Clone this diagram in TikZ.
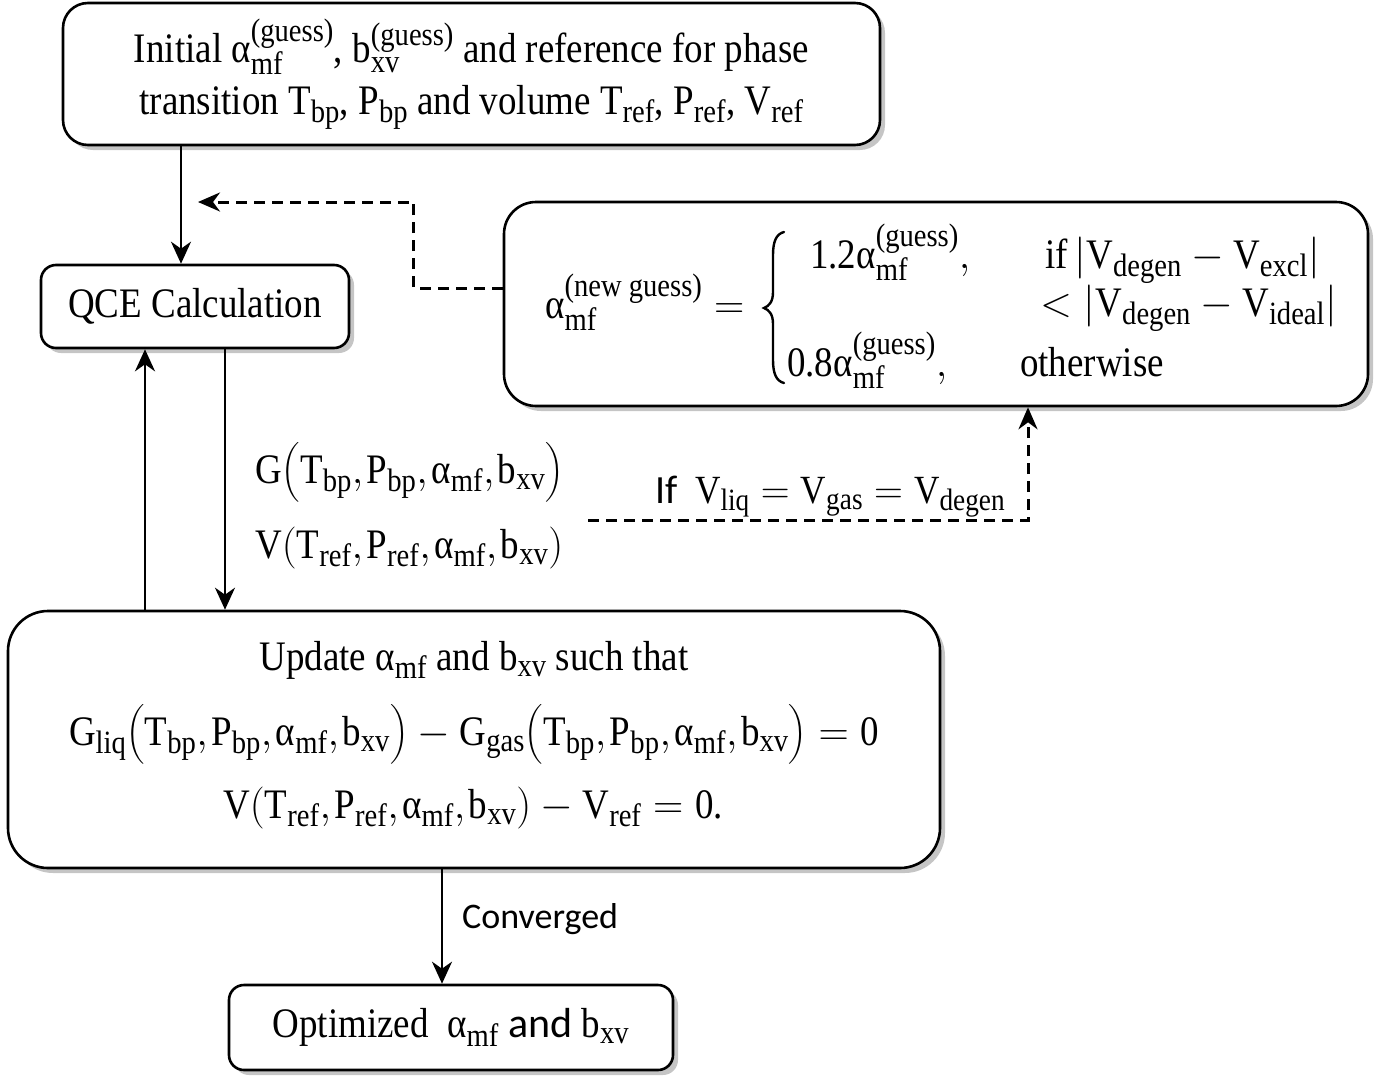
\documentclass[tikz,border=0pt]{standalone}
\usepackage{fix-cm}
\usepackage{amsmath}
\usepackage{fontspec}
\setmainfont[FakeStretch=0.88]{Liberation Serif}
\newfontfamily\calib{Carlito}
\DeclareMathSizes{42}{42}{32.5}{24}
\DeclareMathSizes{40}{40}{31}{22}
\usetikzlibrary{shadows,arrows.meta}
\newcommand\tx[1]{\text{#1}}
\newcommand\cma{{,}\mkern1.5mu}
\newcommand\myam{\tx{α}_{\tx{mf}}}
\newcommand\mybxv{\tx{b}_{\tx{xv}}}
\newcommand\myag{\tx{α}^{\tx{(guess)}}_{\tx{mf}}}
\begin{document}
\begin{tikzpicture}[x=1pt,y=-1pt,
  every node/.style={font=\fontsize{42}{52}\selectfont, inner sep=0pt},
  box/.style={draw, line width=2.6pt, fill=white,
    drop shadow={shadow xshift=5pt, shadow yshift=-5pt, fill=black!45}},
  arr/.style={line width=2.6pt, -{Stealth[length=22pt,width=20pt,inset=7pt]}},
  dasharr/.style={line width=3pt, dash pattern=on 11pt off 7pt,
    -{Stealth[length=22pt,width=19pt,inset=7pt]}},
  lbl/.style={anchor=base west}]
\useasboundingbox (0,0) rectangle (1384,1079);
% boxes
\node[box, rounded corners=25pt, minimum width=817pt, minimum height=142pt, align=center] (top) at (471.5,74)
 {Initial $\myag$, $\tx{b}^{\tx{(guess)}}_{\tx{xv}}$ and reference for phase\\
  transition $\tx{T}_{\tx{bp}}$, $\tx{P}_{\tx{bp}}$ and volume $\tx{T}_{\tx{ref}}$, $\tx{P}_{\tx{ref}}$, $\tx{V}_{\tx{ref}}$};
\node[box, rounded corners=15pt, minimum width=308pt, minimum height=83pt] (qce) at (195,306.5) {QCE Calculation};
\node[box, rounded corners=32pt, minimum width=864pt, minimum height=204pt] (right) at (936,304) {};
\node[box, rounded corners=40pt, minimum width=932pt, minimum height=257pt] (upd) at (474,739.5) {};
\node[box, rounded corners=15pt, minimum width=444pt, minimum height=85pt] (opt) at (451,1027.5)
 {Optimized\ \ $\myam$ {\calib and} $\mybxv$};
% right box content
\node[lbl] (lhs) at (545,318) {$\tx{α}^{\tx{(new guess)}}_{\tx{mf}} =$};
\draw[line width=2.4pt, line cap=round] (784,232) .. controls (776,234) and (773,242) .. (773,255) -- (773,292)
  .. controls (773,302) and (769,306) .. (764,308) .. controls (769,310) and (773,314) .. (773,324)
  -- (773,360) .. controls (773,373) and (776,381) .. (784,383);
\node[lbl] (r1a) at (810,268) {$\tx{1.2}\myag,$};
\node[lbl] (r1b) at (1045,268) {$\tx{if}\,\lvert\tx{V}_{\tx{degen}} - \tx{V}_{\tx{excl}}\rvert$};
\node[lbl] (r2b) at (1040,316) {$<\lvert\tx{V}_{\tx{degen}} - \tx{V}_{\tx{ideal}}\rvert$};
\node[lbl] (r3a) at (787,376) {$\tx{0.8}\myag,$};
\node[lbl] (r3b) at (1020,376) {otherwise};
% update box content
\node[anchor=base] (u1) at (474,670) {Update $\myam$ and $\mybxv$ such that};
\node[anchor=base] (u2) at (474,745) {$\tx{G}_{\tx{liq}}\bigl(\tx{T}_{\tx{bp}}\cma\tx{P}_{\tx{bp}}\cma\myam\cma\mybxv\bigr) - \tx{G}_{\tx{gas}}\bigl(\tx{T}_{\tx{bp}}\cma\tx{P}_{\tx{bp}}\cma\myam\cma\mybxv\bigr) = \tx{0}$};
\node[anchor=base] (u3) at (473,818) {$\tx{V}(\tx{T}_{\tx{ref}}\cma\tx{P}_{\tx{ref}}\cma\myam\cma\mybxv) - \tx{V}_{\tx{ref}} = \tx{0.}$};
% labels
\node[lbl] (gl) at (255,483) {$\tx{G}\bigl(\tx{T}_{\tx{bp}}\cma\tx{P}_{\tx{bp}}\cma\myam\cma\mybxv\bigr)$};
\node[lbl] (vl) at (255,558) {$\tx{V}(\tx{T}_{\tx{ref}}\cma\tx{P}_{\tx{ref}}\cma\myam\cma\mybxv)$};
\node[lbl, font=\fontsize{40}{48}\selectfont] (ifl) at (655,503) {{\calib If}\ \ $\tx{V}_{\tx{liq}} = \tx{V}_{\tx{gas}} = \tx{V}_{\tx{degen}}$};
\node[lbl, font=\fontsize{36}{44}\selectfont] (conv) at (462,928) {\calib Converged};
% connectors
\draw[arr] ([xshift=-14pt]qce.north |- top.south) -- ([xshift=-14pt]qce.north);
\draw[arr] ([xshift=-50pt]qce.south |- upd.north) -- ([xshift=-50pt]qce.south);
\draw[arr] ([xshift=30pt]qce.south) -- ([xshift=30pt]qce.south |- upd.north);
\draw[arr] ([xshift=-9pt]opt.north |- upd.south) -- ([xshift=-9pt]opt.north);
\coordinate (dend) at (198,202);
\draw[dasharr] ([yshift=16pt]right.west) -- ++(-89,0) |- (dend);
\coordinate (vstart) at (588,520);
\draw[dasharr] (vstart) -| ([xshift=92pt]right.south);
\end{tikzpicture}
\end{document}
